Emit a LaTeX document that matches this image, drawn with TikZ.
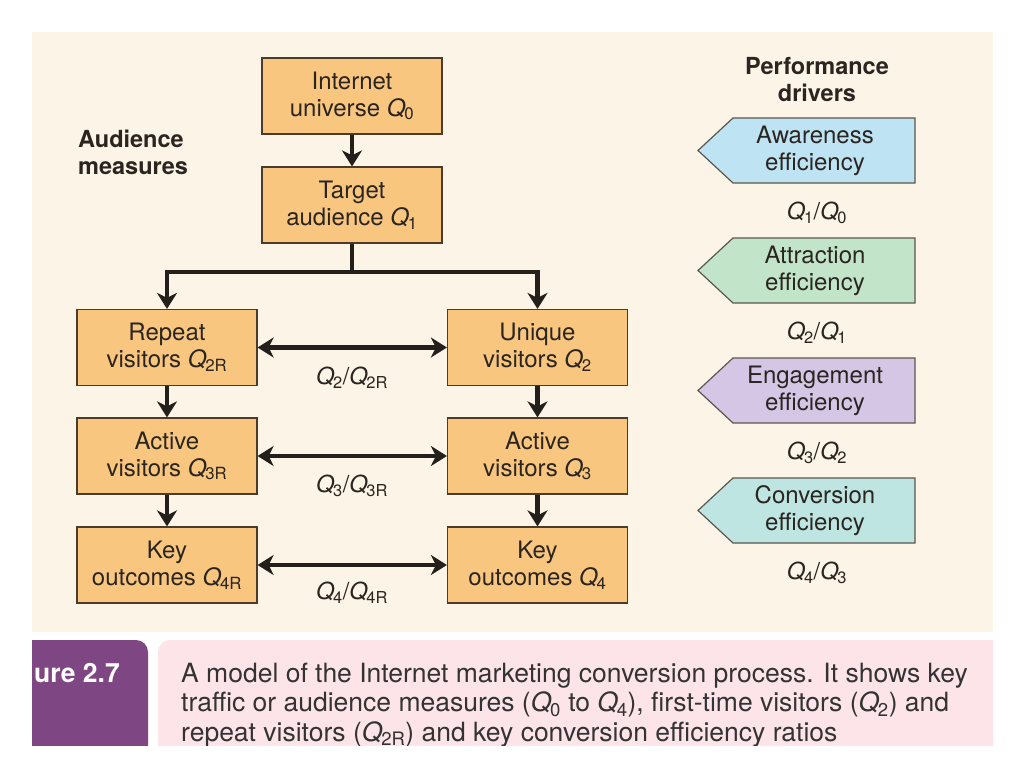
\documentclass[tikz,border=0pt]{standalone}
\usepackage{fontspec}
\setmainfont{TeX Gyre Heros}
\usetikzlibrary{arrows.meta}
\definecolor{cream}{HTML}{FDF4E8}
\definecolor{boxfill}{HTML}{F9C680}
\definecolor{boxline}{HTML}{4A3B2A}
\definecolor{arrowc}{HTML}{231F1A}
\definecolor{txt}{HTML}{2A2520}
\definecolor{cblue}{HTML}{BEE3F3}
\definecolor{cgreen}{HTML}{C2E5CA}
\definecolor{cpurple}{HTML}{D5C6E6}
\definecolor{cteal}{HTML}{BEE5E1}
\definecolor{drvline}{HTML}{5A5650}
\definecolor{capurple}{HTML}{7E4683}
\definecolor{capink}{HTML}{FCE4E9}
\definecolor{captxt}{HTML}{333333}
\newcommand\Qv[1]{\textit{Q}\kern-0.05em\textsubscript{#1}}
\tikzset{
  box/.style={draw=boxline, line width=1.2pt, fill=boxfill, minimum width=180pt,
    minimum height=76pt, inner sep=0pt, align=center, text=txt,
    font=\fontsize{24}{27}\selectfont},
  arr/.style={line width=4.5pt, draw=arrowc, -{Stealth[length=16pt,width=20pt,inset=5pt]}},
  darr/.style={line width=4.5pt, draw=arrowc,
    {Stealth[length=16pt,width=20pt,inset=5pt]}-{Stealth[length=16pt,width=20pt,inset=5pt]}},
  qlab/.style={inner sep=0pt, text=txt, font=\fontsize{23.5}{27}\selectfont},
  head/.style={inner sep=0pt, text=txt, font=\fontsize{23.5}{27}\selectfont\bfseries},
  drvtxt/.style={inner sep=0pt, align=center, text=txt, font=\fontsize{24}{27}\selectfont},
  drv/.style={draw=drvline, line width=1.2pt},
  captext/.style={inner sep=0pt, anchor=base west, text=captxt, font=\fontsize{26.5}{30}\selectfont},
}
\begin{document}
\begin{tikzpicture}[x=1pt,y=-1pt]
\useasboundingbox (0,0) rectangle (1024,768);
\fill[white] (0,0) rectangle (1024,768);
\fill[cream] (32,32) rectangle (993,632);

% headings
\node[head, anchor=west, align=left] (am) at (78,152) {Audience\\measures};
\node[head, align=center] (pd) at (817,80) {Performance\\drivers};

% boxes
\node[box] (q0) at (352,96) {Internet\\universe \Qv{0}};
\node[box] (q1) at (352,205) {Target\\audience \Qv{1}};
\node[box] (q2r) at (167,347.5) {Repeat\\visitors \Qv{2R}};
\node[box] (q2) at (537.5,347.5) {Unique\\visitors \Qv{2}};
\node[box] (q3r) at (167,456) {Active\\visitors \Qv{3R}};
\node[box] (q3) at (537.5,456) {Active\\visitors \Qv{3}};
\node[box] (q4r) at (167,565) {Key\\outcomes \Qv{4R}};
\node[box] (q4) at (537.5,565) {Key\\outcomes \Qv{4}};

% vertical connectors
\draw[arr] (q0.south) -- (q1.north);
\coordinate (split) at (352,272);
\draw[line width=4.5pt, draw=arrowc] (q1.south) -- (split);
\draw[arr] (split) -| (q2r.north);
\draw[arr] (split) -| (q2.north);
\draw[arr] (q2r.south) -- (q3r.north);
\draw[arr] (q3r.south) -- (q4r.north);
\draw[arr] (q2.south) -- (q3.north);
\draw[arr] (q3.south) -- (q4.north);

% horizontal ratios
\draw[darr] (q2r.east) -- (q2.west);
\draw[darr] (q3r.east) -- (q3.west);
\draw[darr] (q4r.east) -- (q4.west);
\node[qlab] (l2) at (352,378) {\Qv{2}/\Qv{2R}};
\node[qlab] (l3) at (352,486) {\Qv{3}/\Qv{3R}};
\node[qlab] (l4) at (352,593) {\Qv{4}/\Qv{4R}};

% performance drivers
\filldraw[drv, fill=cblue] (915,118) -- (733,118) -- (698,150.5) -- (733,183) -- (915,183) -- cycle;
\node[drvtxt] (aw) at (815,150.5) {Awareness\\efficiency};
\node[qlab] (r1) at (817,213) {\Qv{1}/\Qv{0}};

\filldraw[drv, fill=cgreen] (915,238) -- (733,238) -- (698,270.5) -- (733,303) -- (915,303) -- cycle;
\node[drvtxt] (at) at (815,270.5) {Attraction\\efficiency};
\node[qlab] (r2) at (817,333) {\Qv{2}/\Qv{1}};

\filldraw[drv, fill=cpurple] (915,358) -- (733,358) -- (698,390.5) -- (733,423) -- (915,423) -- cycle;
\node[drvtxt] (en) at (815,390.5) {Engagement\\efficiency};
\node[qlab] (r3) at (817,453) {\Qv{3}/\Qv{2}};

\filldraw[drv, fill=cteal] (915,478) -- (733,478) -- (698,510.5) -- (733,543) -- (915,543) -- cycle;
\node[drvtxt] (co) at (815,510.5) {Conversion\\efficiency};
\node[qlab] (r4) at (817,573) {\Qv{4}/\Qv{3}};

% caption
\begin{scope}
\clip (32,632) rectangle (993,745);
\fill[capurple, rounded corners=12pt] (10,640) rectangle (148,780);
\fill[capink, rounded corners=12pt] (158,640) rectangle (1010,780);
\node[captext, text=white, font=\fontsize{26.5}{30}\selectfont\bfseries] (fig) at (34,682) {ure 2.7};
\node[captext] (c1) at (181,682) {A model of the Internet marketing conversion process. It shows key};
\node[captext] (c2) at (181,711.5) {traffic or audience measures (\Qv{0} to \Qv{4}), first-time visitors (\Qv{2}) and};
\node[captext] (c3) at (181,741) {repeat visitors (\Qv{2R}) and key conversion efficiency ratios};
\end{scope}
\end{tikzpicture}
\end{document}
